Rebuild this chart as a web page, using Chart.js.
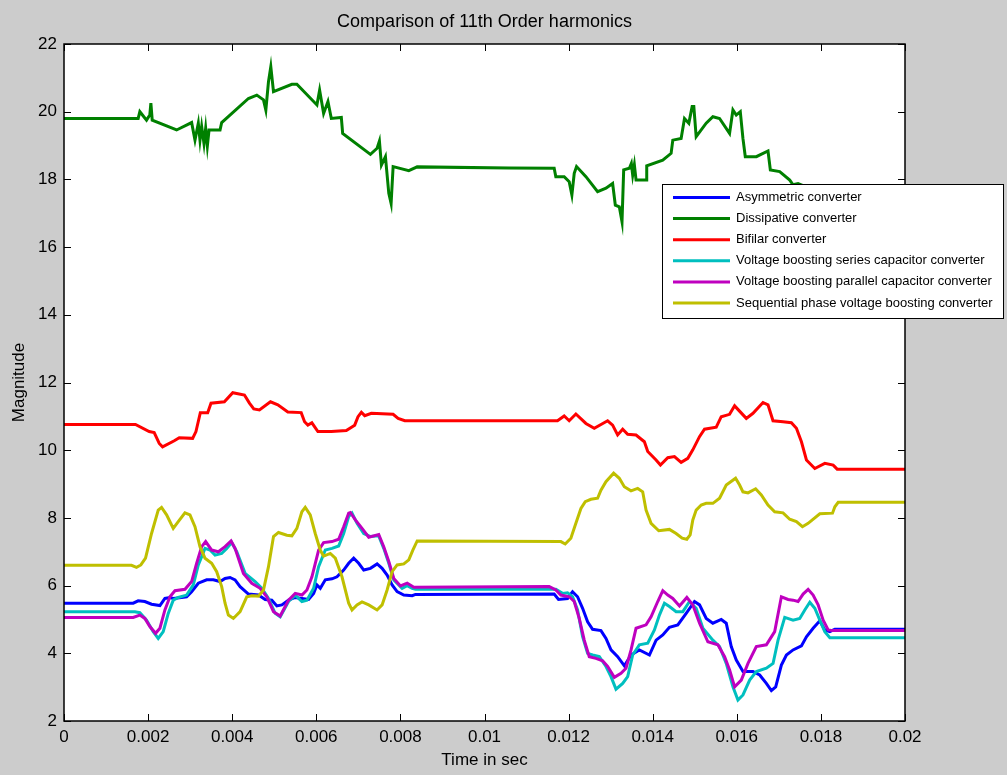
<!DOCTYPE html>
<html>
<head>
<meta charset="utf-8">
<script src="https://cdn.jsdelivr.net/npm/chart.js@4.4.1/dist/chart.umd.min.js"></script>
<style>
  body { margin: 0; background: #cccccc; }
  canvas { display: block; }
</style>
</head>
<body>
<canvas id="harmChart" width="1007" height="775"></canvas>
<script>
// 11th order harmonic magnitude vs time
var seriesNames = ['Asymmetric converter', 'Dissipative converter', 'Bifilar converter',
  'Voltage boosting series capacitor converter', 'Voltage boosting parallel capacitor converter',
  'Sequential phase voltage boosting converter'];
var seriesColors = ['#0000ff', '#008000', '#ff0000', '#00bfbf', '#bf00bf', '#bfbf00'];
var xTickLabels = ['0', '0.002', '0.004', '0.006', '0.008', '0.01', '0.012', '0.014', '0.016', '0.018', '0.02'];
var yTickLabels = ['2', '4', '6', '8', '10', '12', '14', '16', '18', '20', '22'];

var asymT = [0, 0.001645, 0.001764, 0.001923, 0.002082, 0.002281, 0.0024, 0.002519, 0.002598, 0.002797, 0.002916,
  0.003035, 0.003194, 0.003393, 0.003552, 0.003711, 0.00383, 0.003949, 0.004068, 0.004188, 0.004386, 0.004625,
  0.004784, 0.004942, 0.005062, 0.005181, 0.00534, 0.005499, 0.005658, 0.005817, 0.005936, 0.006015, 0.006095,
  0.006214, 0.006373, 0.006492, 0.006651, 0.00677, 0.006889, 0.007008, 0.007128, 0.007287, 0.007446, 0.007565,
  0.007684, 0.007803, 0.007922, 0.008081, 0.00828, 0.008359, 0.011657, 0.01176, 0.011975, 0.012094, 0.012213,
  0.012333, 0.012452, 0.012571, 0.01277, 0.012889, 0.013008, 0.013167, 0.013326, 0.013485, 0.013683, 0.013922,
  0.014081, 0.01424, 0.014398, 0.014597, 0.014796, 0.014994, 0.015114, 0.015273, 0.015431, 0.01563, 0.015749,
  0.015868, 0.015988, 0.016147, 0.016385, 0.016544, 0.016703, 0.016822, 0.016925, 0.01706, 0.01718, 0.017338,
  0.017537, 0.017656, 0.017815, 0.017974, 0.018093, 0.018213, 0.018332, 0.02];
var asymV = [5.48, 5.48, 5.55, 5.53, 5.45, 5.41, 5.62, 5.65, 5.62, 5.65, 5.67,
  5.82, 6.07, 6.17, 6.17, 6.12, 6.21, 6.24, 6.17, 5.97, 5.75, 5.72,
  5.59, 5.57, 5.40, 5.43, 5.57, 5.65, 5.62, 5.59, 5.77, 6.02, 5.92,
  6.17, 6.20, 6.26, 6.46, 6.66, 6.81, 6.66, 6.46, 6.51, 6.64, 6.51,
  6.31, 6.02, 5.82, 5.72, 5.70, 5.74, 5.75, 5.59, 5.62, 5.82, 5.67,
  5.33, 4.93, 4.71, 4.67, 4.44, 4.10, 3.90, 3.63, 3.95, 4.10, 3.95,
  4.39, 4.54, 4.77, 4.84, 5.18, 5.53, 5.43, 5.03, 4.89, 5.00, 4.89,
  4.20, 3.80, 3.46, 3.46, 3.36, 3.11, 2.90, 3.01, 3.65, 3.95, 4.10,
  4.22, 4.49, 4.74, 4.96, 4.69, 4.64, 4.71, 4.71];

var dissT = [0, 0.001764, 0.001804, 0.001963, 0.00204, 0.002066, 0.002098, 0.002678, 0.003035, 0.003115, 0.003194,
  0.003234, 0.003274, 0.003329, 0.003369, 0.003409, 0.003449, 0.003711, 0.00375, 0.004386, 0.004585, 0.004744,
  0.0048, 0.004863, 0.004918, 0.004982, 0.005419, 0.005538, 0.006015, 0.006079, 0.006174, 0.006277, 0.006357,
  0.006595, 0.006627, 0.007287, 0.007446, 0.007501, 0.007549, 0.007644, 0.007724, 0.007779, 0.007827, 0.0082,
  0.008399, 0.010585, 0.011657, 0.011696, 0.011895, 0.012014, 0.012078, 0.012134, 0.012189, 0.012412, 0.01269,
  0.012889, 0.013047, 0.013111, 0.013206, 0.01327, 0.01331, 0.013445, 0.013492, 0.013524, 0.013564, 0.013604,
  0.013842, 0.013858, 0.014239, 0.014438, 0.014478, 0.014676, 0.014756, 0.014859, 0.014938, 0.014978, 0.015034,
  0.015272, 0.015431, 0.01559, 0.015828, 0.015908, 0.015987, 0.016083, 0.016146, 0.016202, 0.016464, 0.016742,
  0.016798, 0.01702, 0.017259, 0.017338, 0.017457, 0.018, 0.02];
var dissV = [19.80, 19.80, 20.00, 19.75, 19.90, 20.25, 19.75, 19.46, 19.68, 19.16, 19.66,
  19.16, 19.56, 19.06, 19.51, 18.99, 19.46, 19.46, 19.68, 20.39, 20.49, 20.35,
  20.05, 20.89, 21.33, 20.59, 20.81, 20.81, 20.20, 20.64, 19.95, 20.30, 19.80,
  19.83, 19.36, 18.74, 18.92, 19.13, 18.42, 18.67, 17.59, 17.29, 18.38, 18.26,
  18.37, 18.34, 18.33, 18.08, 18.08, 17.93, 17.54, 18.18, 18.38, 18.08, 17.64,
  17.74, 17.88, 17.24, 17.19, 16.75, 18.28, 18.33, 18.47, 18.13, 18.43, 17.98,
  17.98, 18.40, 18.57, 18.77, 19.16, 19.21, 19.80, 19.66, 20.15, 20.15, 19.26,
  19.66, 19.85, 19.80, 19.36, 20.05, 19.90, 20.00, 19.21, 18.67, 18.67, 18.84,
  18.28, 18.23, 17.98, 17.84, 17.88, 17.60, 17.50];

var bifT = [0, 0.0017, 0.002026, 0.002145, 0.002265, 0.002344, 0.002622, 0.002741, 0.003059, 0.003138, 0.003242,
  0.003417, 0.003496, 0.003814, 0.004013, 0.004291, 0.00441, 0.004513, 0.004648, 0.00491, 0.005085, 0.005323,
  0.005641, 0.005721, 0.0058, 0.005895, 0.006038, 0.006357, 0.006714, 0.006913, 0.006992, 0.007072, 0.007151,
  0.00731, 0.007827, 0.007946, 0.008105, 0.011736, 0.011895, 0.012014, 0.012173, 0.012412, 0.01261, 0.012928,
  0.013047, 0.013166, 0.013286, 0.013405, 0.013604, 0.013802, 0.013882, 0.01408, 0.014184, 0.014358, 0.014517,
  0.014676, 0.014835, 0.014954, 0.015113, 0.015232, 0.015511, 0.01563, 0.015828, 0.015948, 0.016226, 0.016385,
  0.016623, 0.016742, 0.016861, 0.0171, 0.017298, 0.017418, 0.017537, 0.017656, 0.017855, 0.018093, 0.018292,
  0.018387, 0.02];
var bifV = [10.76, 10.76, 10.55, 10.52, 10.20, 10.10, 10.28, 10.37, 10.35, 10.55, 11.11,
  11.11, 11.39, 11.43, 11.70, 11.63, 11.39, 11.22, 11.19, 11.43, 11.34, 11.13,
  11.11, 10.84, 10.74, 10.81, 10.55, 10.55, 10.58, 10.74, 10.99, 11.12, 11.02,
  11.09, 11.06, 10.94, 10.87, 10.87, 11.01, 10.87, 11.07, 10.79, 10.65, 10.87,
  10.74, 10.45, 10.62, 10.47, 10.45, 10.25, 9.96, 9.71, 9.56, 9.78, 9.81,
  9.64, 9.76, 10.01, 10.40, 10.62, 10.68, 10.99, 11.06, 11.31, 10.94, 11.09,
  11.41, 11.34, 10.87, 10.84, 10.81, 10.65, 10.25, 9.71, 9.46, 9.61, 9.56,
  9.44, 9.44];

var serT = [0, 0.001685, 0.001804, 0.001963, 0.002122, 0.002241, 0.00236, 0.002479, 0.002598, 0.002718, 0.002916,
  0.003075, 0.003194, 0.003353, 0.003472, 0.003592, 0.00375, 0.00387, 0.003989, 0.004108, 0.004307, 0.004545,
  0.004704, 0.004863, 0.005022, 0.005141, 0.00534, 0.005499, 0.005658, 0.005777, 0.005936, 0.006055, 0.006214,
  0.006373, 0.006532, 0.006651, 0.00677, 0.006849, 0.006969, 0.007128, 0.007287, 0.007485, 0.007604, 0.007724,
  0.007843, 0.008041, 0.00816, 0.00828, 0.008359, 0.011697, 0.011856, 0.011975, 0.012094, 0.012213, 0.012333,
  0.012452, 0.012571, 0.01273, 0.012889, 0.013008, 0.013127, 0.013286, 0.013405, 0.013524, 0.013683, 0.013882,
  0.014041, 0.01416, 0.014279, 0.014398, 0.014557, 0.014716, 0.014875, 0.015034, 0.015193, 0.015431, 0.01559,
  0.015749, 0.015908, 0.016027, 0.016147, 0.016306, 0.016464, 0.016703, 0.016862, 0.016981, 0.01714, 0.017338,
  0.017497, 0.017617, 0.017736, 0.017855, 0.017974, 0.018093, 0.018213, 0.02];
var serV = [5.23, 5.23, 5.20, 4.98, 4.64, 4.44, 4.64, 5.18, 5.57, 5.65, 5.72,
  6.02, 6.61, 7.10, 7.05, 6.90, 6.95, 7.10, 7.27, 7.00, 6.36, 6.12,
  5.92, 5.62, 5.18, 5.08, 5.53, 5.72, 5.53, 5.57, 5.92, 6.56, 7.05,
  7.10, 7.17, 7.54, 8.04, 8.14, 7.84, 7.54, 7.45, 7.47, 7.10, 6.66,
  6.17, 5.92, 6.00, 5.92, 5.89, 5.89, 5.77, 5.79, 5.67, 5.28, 4.49,
  4.00, 3.95, 3.90, 3.61, 3.31, 2.94, 3.11, 3.31, 3.95, 4.25, 4.30,
  4.69, 5.13, 5.48, 5.38, 5.23, 5.23, 5.53, 5.33, 4.74, 4.39, 4.20,
  3.70, 3.01, 2.62, 2.77, 3.21, 3.46, 3.56, 3.70, 4.39, 5.06, 4.98,
  5.03, 5.28, 5.51, 5.33, 4.98, 4.64, 4.46, 4.46];

var parT = [0, 0.001645, 0.001804, 0.001923, 0.002042, 0.002177, 0.002281, 0.0024, 0.002519, 0.002638, 0.002877,
  0.003035, 0.003155, 0.003274, 0.003369, 0.003512, 0.003671, 0.00383, 0.003973, 0.004068, 0.004267, 0.004466,
  0.004664, 0.004823, 0.004982, 0.005141, 0.00534, 0.005499, 0.005658, 0.005777, 0.005896, 0.006055, 0.006174,
  0.006373, 0.006532, 0.006651, 0.00677, 0.00681, 0.006929, 0.007088, 0.007247, 0.007485, 0.007604, 0.007724,
  0.007843, 0.008002, 0.008161, 0.00832, 0.011538, 0.011697, 0.011816, 0.012015, 0.012134, 0.012253, 0.012372,
  0.012491, 0.01265, 0.012809, 0.012928, 0.013087, 0.013246, 0.013365, 0.013485, 0.013604, 0.013842, 0.013961,
  0.01412, 0.01424, 0.014359, 0.014478, 0.014637, 0.014812, 0.014955, 0.015114, 0.015312, 0.01555, 0.01571,
  0.015829, 0.015948, 0.016107, 0.016266, 0.016464, 0.016703, 0.016901, 0.01706, 0.017219, 0.017338, 0.017457,
  0.017577, 0.017696, 0.017815, 0.017934, 0.018054, 0.018173, 0.018292, 0.02];
var parV = [5.06, 5.06, 5.13, 5.03, 4.79, 4.59, 4.74, 5.28, 5.67, 5.85, 5.89,
  6.12, 6.66, 7.15, 7.30, 7.05, 7.00, 7.15, 7.32, 7.10, 6.36, 6.07,
  5.92, 5.67, 5.23, 5.10, 5.57, 5.77, 5.72, 5.87, 6.26, 7.05, 7.27,
  7.30, 7.37, 7.74, 8.14, 8.16, 7.94, 7.69, 7.43, 7.51, 7.15, 6.71,
  6.21, 5.99, 6.07, 5.95, 5.97, 5.87, 5.72, 5.67, 5.53, 5.03, 4.39,
  3.90, 3.85, 3.78, 3.61, 3.29, 3.41, 3.56, 4.10, 4.74, 4.84, 5.08,
  5.53, 5.85, 5.72, 5.62, 5.40, 5.65, 5.43, 4.89, 4.34, 4.25, 3.90,
  3.51, 3.01, 3.21, 3.70, 4.20, 4.25, 4.64, 5.67, 5.59, 5.57, 5.53,
  5.75, 5.89, 5.72, 5.43, 4.98, 4.69, 4.67, 4.67];

var seqT = [0, 0.001605, 0.001724, 0.001828, 0.001939, 0.002082, 0.002241, 0.00232, 0.00244, 0.002598, 0.002717,
  0.002876, 0.002996, 0.003115, 0.003234, 0.003353, 0.003512, 0.003631, 0.00375, 0.00383, 0.003909, 0.004028,
  0.004188, 0.004346, 0.004466, 0.004625, 0.004744, 0.004863, 0.004982, 0.005101, 0.0053, 0.005419, 0.005538,
  0.005657, 0.005737, 0.005856, 0.005975, 0.006094, 0.006174, 0.006333, 0.006452, 0.006611, 0.00677, 0.006849,
  0.006968, 0.007087, 0.007247, 0.007445, 0.007565, 0.007684, 0.007803, 0.007922, 0.008081, 0.0082, 0.008296,
  0.008399, 0.011816, 0.011919, 0.012054, 0.012173, 0.012293, 0.012396, 0.012531, 0.01269, 0.012769, 0.012888,
  0.013071, 0.013206, 0.013325, 0.013484, 0.013643, 0.013762, 0.013842, 0.013961, 0.014144, 0.014398, 0.014557,
  0.0147, 0.014811, 0.014891, 0.014954, 0.015034, 0.015153, 0.015272, 0.015431, 0.01559, 0.015749, 0.015971,
  0.016067, 0.016146, 0.016266, 0.016448, 0.016583, 0.016742, 0.016901, 0.0171, 0.017259, 0.017418, 0.017561,
  0.017696, 0.017974, 0.018276, 0.018332, 0.018411, 0.02];
var seqV = [6.60, 6.60, 6.54, 6.61, 6.81, 7.54, 8.23, 8.31, 8.09, 7.69, 7.89,
  8.15, 8.09, 7.74, 7.15, 6.81, 6.66, 6.41, 5.97, 5.48, 5.13, 5.03,
  5.23, 5.67, 5.70, 5.69, 5.87, 6.56, 7.45, 7.57, 7.49, 7.47, 7.69,
  8.18, 8.31, 8.09, 7.54, 7.05, 6.87, 6.95, 6.81, 6.26, 5.48, 5.28,
  5.43, 5.52, 5.43, 5.28, 5.43, 5.87, 6.41, 6.61, 6.64, 6.76, 7.05,
  7.32, 7.30, 7.23, 7.40, 7.84, 8.28, 8.48, 8.55, 8.58, 8.82, 9.07,
  9.32, 9.17, 8.92, 8.80, 8.87, 8.77, 8.23, 7.84, 7.62, 7.66, 7.54,
  7.40, 7.37, 7.50, 7.94, 8.23, 8.38, 8.43, 8.43, 8.58, 8.97, 9.17,
  8.97, 8.77, 8.74, 8.86, 8.68, 8.38, 8.18, 8.15, 7.96, 7.89, 7.74,
  7.84, 8.12, 8.14, 8.33, 8.46, 8.46];

function pairs(t, v) {
  var out = [];
  for (let i = 0; i < t.length; i++) out.push({x: t[i], y: v[i]});
  return out;
}

var allT = [asymT, dissT, bifT, serT, parT, seqT];
var allV = [asymV, dissV, bifV, serV, parV, seqV];

var datasets = [];
for (let i = 0; i < seriesNames.length; i++) {
  datasets.push({
    label: seriesNames[i],
    data: pairs(allT[i], allV[i]),
    borderColor: seriesColors[i],
    backgroundColor: seriesColors[i],
    borderWidth: 3,
    pointRadius: 0,
    tension: 0,
    fill: false,
    order: seriesNames.length - i   // later series drawn on top, like matlab
  });
}

var FONT = '"Liberation Sans", Arial, Helvetica, sans-serif';

// matlab style frame: white axes, inward ticks on all four sides, boxed legend, titles
var matlabFrame = {
  id: 'matlabFrame',
  beforeDraw: function (chart) {
    var ctx = chart.ctx, a = chart.chartArea;
    ctx.save();
    ctx.fillStyle = '#cccccc';
    ctx.fillRect(0, 0, chart.width, chart.height);
    ctx.fillStyle = '#ffffff';
    ctx.fillRect(a.left, a.top, a.right - a.left, a.bottom - a.top);
    ctx.restore();
  },
  afterDraw: function (chart) {
    var ctx = chart.ctx, a = chart.chartArea;
    var xs = chart.scales.x, ys = chart.scales.y;
    var tl = 7;
    ctx.save();
    ctx.strokeStyle = '#000000';
    ctx.lineWidth = 1;
    ctx.beginPath();
    xs.ticks.forEach(function (t) {
      var px = Math.round(xs.getPixelForValue(t.value)) + 0.5;
      ctx.moveTo(px, a.bottom); ctx.lineTo(px, a.bottom - tl);
      ctx.moveTo(px, a.top); ctx.lineTo(px, a.top + tl);
    });
    ys.ticks.forEach(function (t) {
      var py = Math.round(ys.getPixelForValue(t.value)) + 0.5;
      ctx.moveTo(a.left, py); ctx.lineTo(a.left + tl, py);
      ctx.moveTo(a.right, py); ctx.lineTo(a.right - tl, py);
    });
    ctx.stroke();
    ctx.lineWidth = 1.5;
    ctx.strokeRect(a.left, a.top, a.right - a.left, a.bottom - a.top);

    // titles
    var cx = (a.left + a.right) / 2;
    ctx.fillStyle = '#000000';
    ctx.textAlign = 'center';
    ctx.textBaseline = 'middle';
    ctx.font = '18px ' + FONT;
    ctx.fillText('Comparison of 11th Order harmonics', cx, 22);
    ctx.font = '17px ' + FONT;
    ctx.fillText('Time in sec', cx, 760);
    ctx.save();
    ctx.translate(19, (a.top + a.bottom) / 2);
    ctx.rotate(-Math.PI / 2);
    ctx.fillText('Magnitude', 0, 0);
    ctx.restore();

    // legend box
    var lx = 662, ly = 184, lw = 341, lh = 134;
    ctx.fillStyle = '#ffffff';
    ctx.fillRect(lx, ly, lw, lh);
    ctx.lineWidth = 1;
    ctx.strokeStyle = '#000000';
    ctx.strokeRect(lx + 0.5, ly + 0.5, lw, lh);
    ctx.font = '13px ' + FONT;
    ctx.textAlign = 'left';
    chart.data.datasets.forEach(function (ds, i) {
      var yy = ly + 13.5 + i * 21.1;
      ctx.strokeStyle = ds.borderColor;
      ctx.lineWidth = 3;
      ctx.beginPath();
      ctx.moveTo(673, yy); ctx.lineTo(730, yy);
      ctx.stroke();
      ctx.fillStyle = '#000000';
      ctx.fillText(ds.label, 736, yy);
    });
    ctx.restore();
  }
};

var ctx = document.getElementById('harmChart').getContext('2d');
var chart = new Chart(ctx, {
  type: 'line',
  data: { datasets: datasets },
  options: {
    responsive: false,
    animation: false,
    events: [],
    layout: { padding: { top: 44, right: 102, left: 0, bottom: 0 } },
    plugins: {
      legend: { display: false },
      title: { display: false },
      tooltip: { enabled: false }
    },
    scales: {
      x: {
        type: 'linear',
        min: 0,
        max: 0.02,
        grid: { display: false, drawTicks: false },
        border: { display: false },
        ticks: {
          stepSize: 0.002,
          padding: 6,
          color: '#000000',
          font: { family: FONT, size: 17 },
          maxRotation: 0,
          autoSkip: false,
          callback: function (v, i) { return xTickLabels[i]; }
        },
        afterFit: function (s) { s.height = 54; }
      },
      y: {
        type: 'linear',
        min: 2,
        max: 22,
        grid: { display: false, drawTicks: false },
        border: { display: false },
        ticks: {
          stepSize: 2,
          padding: 7,
          color: '#000000',
          font: { family: FONT, size: 17 },
          callback: function (v, i) { return yTickLabels[i]; }
        },
        afterFit: function (s) { s.width = 64; }
      }
    }
  },
  plugins: [matlabFrame]
});
</script>
</body>
</html>
